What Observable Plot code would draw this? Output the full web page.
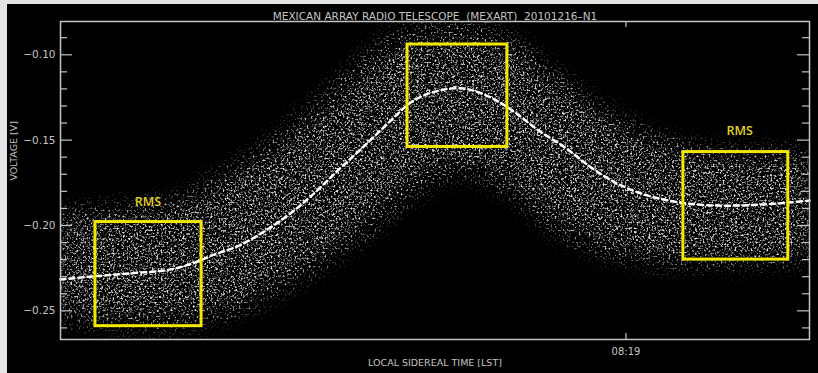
<!DOCTYPE html>
<html>
<head>
<meta charset="utf-8">
<script src="https://cdn.jsdelivr.net/npm/d3@7"></script>
<script src="https://cdn.jsdelivr.net/npm/@observablehq/plot@0.6"></script>
<style>
  html, body { margin: 0; padding: 0; background: #e4e4e4; width: 818px; height: 373px; overflow: hidden; }
  #chart { position: absolute; left: 7px; top: 4px; width: 811px; height: 369px; background: #000; }
</style>
</head>
<body>
<div id="chart"></div>
<script>
// Local sidereal time (minutes after 00:00) of the sampled positions
const lst = [453.7, 456, 458, 460, 462, 464, 466, 468, 470, 472, 474, 476, 478, 480, 482, 484,
             486, 488, 490, 492, 494, 496, 498, 500, 502, 504, 506, 508, 510, 512, 513.7];
// Smoothed signal (dashed white line), volts
const smooth = [-0.2317, -0.2300, -0.2288, -0.2276, -0.2264, -0.2229, -0.2171, -0.2118, -0.2036, -0.1936,
                -0.1813, -0.1672, -0.1537, -0.1397, -0.1268, -0.1210, -0.1198, -0.1245, -0.1332, -0.1444,
                -0.1537, -0.1649, -0.1743, -0.1807, -0.1848, -0.1872, -0.1883, -0.1883, -0.1877, -0.1866, -0.1854];
// Outer envelope of the raw noisy samples
const rawTop = [-0.190, -0.189, -0.188, -0.187, -0.185, -0.180, -0.171, -0.162, -0.152, -0.141,
                -0.128, -0.114, -0.100, -0.089, -0.083, -0.081, -0.081, -0.083, -0.089, -0.100,
                -0.112, -0.124, -0.133, -0.141, -0.147, -0.151, -0.154, -0.155, -0.155, -0.155, -0.156];
const rawBottom = [-0.257, -0.259, -0.260, -0.262, -0.262, -0.260, -0.257, -0.253, -0.246, -0.238,
                   -0.229, -0.219, -0.209, -0.197, -0.185, -0.175, -0.172, -0.177, -0.185, -0.198,
                   -0.209, -0.216, -0.221, -0.223, -0.225, -0.225, -0.225, -0.225, -0.224, -0.223, -0.222];
// Dense core of the raw samples
const coreTop = [-0.198, -0.197, -0.196, -0.195, -0.194, -0.188, -0.181, -0.172, -0.163, -0.153,
                 -0.140, -0.127, -0.114, -0.102, -0.095, -0.092, -0.092, -0.095, -0.100, -0.112,
                 -0.124, -0.134, -0.143, -0.151, -0.157, -0.161, -0.162, -0.163, -0.163, -0.163, -0.164];
const coreBottom = [-0.247, -0.250, -0.251, -0.252, -0.251, -0.250, -0.247, -0.243, -0.235, -0.226,
                    -0.218, -0.206, -0.194, -0.182, -0.171, -0.162, -0.161, -0.165, -0.174, -0.185,
                    -0.196, -0.204, -0.211, -0.215, -0.217, -0.218, -0.218, -0.218, -0.217, -0.216, -0.215];

// RMS / peak boxes
const boxStart = [456.5, 481.5, 503.6];
const boxEnd   = [465.0, 489.5, 512.0];
const boxTop   = [-0.198, -0.094, -0.157];
const boxBottom= [-0.259, -0.154, -0.220];

// RMS labels
const labelText = ["RMS", "RMS"];
const labelLst  = [460.7, 508.1];
const labelVolt = [-0.186, -0.1444];

// Axis ticks
const yMajor = [-0.25, -0.20, -0.15, -0.10];
const yMinor = [-0.26, -0.24, -0.23, -0.22, -0.21, -0.19, -0.18, -0.17, -0.16, -0.14, -0.13, -0.12, -0.11, -0.09];
const xTicks = [499];
const xTickLabels = ["08:19"];

const titleText = "MEXICAN ARRAY RADIO TELESCOPE\u00a0\u00a0(MEXART)\u00a0\u00a020101216\u2013N1";
const xLabel = "LOCAL SIDEREAL TIME [LST]";
const yLabel = "VOLTAGE [V]";

const series = lst.map((t, i) => ({t, mid: smooth[i], oHi: rawTop[i], oLo: rawBottom[i], iHi: coreTop[i], iLo: coreBottom[i]}));
const boxes = boxStart.map((x1, i) => ({x1, x2: boxEnd[i], y1: boxBottom[i], y2: boxTop[i]}));
const labels = labelText.map((s, i) => ({s, t: labelLst[i], v: labelVolt[i]}));

const W = 811, H = 369, mL = 53, mR = 9, mT = 17, mB = 34;
const innerW = W - mL - mR, innerH = H - mT - mB;
const axisColor = "#c4c4c4";

const svg = Plot.plot({
  width: W, height: H,
  marginLeft: mL, marginRight: mR, marginTop: mT, marginBottom: mB,
  style: {background: "#000", color: axisColor, fontFamily: "'DejaVu Sans', sans-serif", fontSize: "10px"},
  x: {domain: [453.7, 513.7]},
  y: {domain: [-0.2668, -0.0805]},
  marks: [
    Plot.areaY(series, {x: "t", y1: "oLo", y2: "oHi", curve: "catmull-rom", fill: "white", clip: true}),
    Plot.areaY(series, {x: "t", y1: "iLo", y2: "iHi", curve: "catmull-rom", fill: "white", clip: true}),
    Plot.line(series, {x: "t", y: "mid", curve: "catmull-rom", stroke: "white", strokeWidth: 2.5, strokeDasharray: "5,4"}),
    Plot.rect(boxes, {x1: "x1", x2: "x2", y1: "y1", y2: "y2", fill: "none", stroke: "#f4e800", strokeWidth: 3}),
    Plot.text(labels, {x: "t", y: "v", text: "s", fill: "#e3d21c", fontSize: 12.5, fontFamily: "'Open Sans', sans-serif", fontWeight: 600}),
    Plot.frame({stroke: axisColor, strokeWidth: 1.5}),
    Plot.ruleY(yMajor, {stroke: axisColor, strokeWidth: 1.2, insetRight: innerW - 12}),
    Plot.ruleY(yMinor, {stroke: axisColor, strokeWidth: 1.2, insetRight: innerW - 7}),
    Plot.ruleY(yMajor, {stroke: axisColor, strokeWidth: 1.2, insetLeft: innerW - 12}),
    Plot.ruleY(yMinor, {stroke: axisColor, strokeWidth: 1.2, insetLeft: innerW - 7}),
    Plot.ruleX(xTicks, {stroke: axisColor, strokeWidth: 1.2, insetTop: innerH - 6}),
    Plot.ruleX(xTicks, {stroke: axisColor, strokeWidth: 1.2, insetBottom: innerH - 6}),
    Plot.axisY({ticks: yMajor, tickSize: 0, tickPadding: 5, tickFormat: d3.format(".2f"), label: null, fontSize: 10.5}),
    Plot.axisX({ticks: xTicks, tickSize: 0, tickPadding: 8, tickFormat: (d) => xTickLabels[xTicks.indexOf(d)], label: null}),
    Plot.text([titleText], {frameAnchor: "top", dy: -9, fill: axisColor, fontSize: 10.5}),
    Plot.text([xLabel], {frameAnchor: "bottom", dy: 26, fill: axisColor, fontSize: 9.5}),
    Plot.text([yLabel], {frameAnchor: "left", dx: -47, rotate: -90, fill: axisColor, fontSize: 9.5})
  ]
});

// speckle texture filters for the raw-sample clouds
const defs = d3.select(svg).insert("defs", ":first-child");
defs.html(`
  <filter id="fOuter" filterUnits="userSpaceOnUse" x="0" y="0" width="${W}" height="${H}" color-interpolation-filters="sRGB">
    <feGaussianBlur in="SourceAlpha" stdDeviation="9" result="soft"/>
    <feTurbulence type="fractalNoise" baseFrequency="0.5" numOctaves="2" seed="7" result="noise"/>
    <feColorMatrix in="noise" type="matrix" values="0 0 0 0 0.9  0 0 0 0 0.9  0 0 0 0 0.9  5 0 0 0 -2.8" result="dots"/>
    <feComposite in="dots" in2="soft" operator="in"/>
  </filter>
  <filter id="fInner" filterUnits="userSpaceOnUse" x="0" y="0" width="${W}" height="${H}" color-interpolation-filters="sRGB">
    <feGaussianBlur in="SourceAlpha" stdDeviation="7" result="soft"/>
    <feTurbulence type="fractalNoise" baseFrequency="0.55" numOctaves="2" seed="21" result="noise"/>
    <feColorMatrix in="noise" type="matrix" values="0 0 0 0 0.9  0 0 0 0 0.9  0 0 0 0 0.9  4 0 0 0 -2.15" result="dots"/>
    <feComposite in="dots" in2="soft" operator="in"/>
  </filter>`);
const areas = d3.select(svg).selectAll('g[aria-label="area"]').nodes();
if (areas[0]) areas[0].setAttribute("filter", "url(#fOuter)");
if (areas[1]) areas[1].setAttribute("filter", "url(#fInner)");

document.getElementById("chart").appendChild(svg);
</script>
</body>
</html>
